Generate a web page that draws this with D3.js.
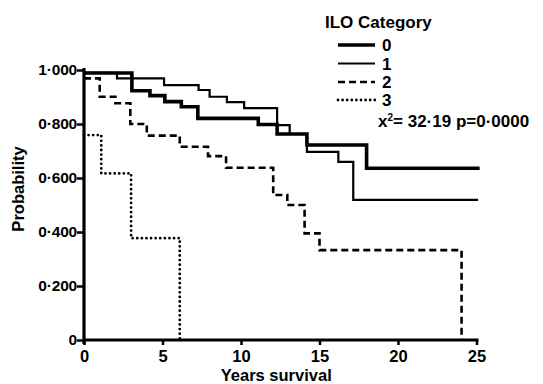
<!DOCTYPE html>
<html><head><meta charset="utf-8">
<script src="https://cdn.jsdelivr.net/npm/d3@7/dist/d3.min.js"></script>
<style>
body{margin:0;background:#fff;}
svg{display:block;}
text{font-family:"Liberation Sans",Arial,sans-serif;font-weight:bold;fill:#000;}
</style></head>
<body><svg id="c" width="543" height="384"></svg>
<script>
// Data
const categories = ["0","1","2","3"];
const times0 = [0, 3.05, 4.2, 5.15, 6.2, 7.25, 11.1, 12.3, 14.2, 18.0, 25.2];
const surv0  = [0.989, 0.923, 0.905, 0.883, 0.864, 0.821, 0.798, 0.763, 0.722, 0.636, 0.636];
const times1 = [0, 2.1, 5.1, 7.3, 8.0, 9.1, 10.2, 12.3, 13.1, 14.2, 16.2, 17.15, 25.1];
const surv1  = [0.989, 0.969, 0.944, 0.926, 0.901, 0.881, 0.859, 0.796, 0.763, 0.697, 0.660, 0.519, 0.519];
const times2 = [0, 1.0, 2.0, 2.95, 4.0, 6.1, 7.9, 9.05, 12.05, 12.95, 14.05, 15.0, 24.05];
const surv2  = [0.969, 0.901, 0.877, 0.80, 0.757, 0.716, 0.681, 0.638, 0.537, 0.50, 0.395, 0.333, 0];
const times3 = [0, 1.1, 3.0, 6.1];
const surv3  = [0.759, 0.617, 0.377, 0];
const xTicks = [0, 5, 10, 15, 20, 25];
const yTicks = [0, 0.2, 0.4, 0.6, 0.8, 1.0];
const yTickLabels = ["0", "0·200", "0·400", "0·600", "0·800", "1·000"];
const statText = "= 32·19  p=0·0000";

const svg = d3.select("#c");
const x = d3.scaleLinear().domain([0, 25]).range([84, 476.5]);
const y = d3.scaleLinear().domain([0, 1]).range([340, 70]);

const styles = [
  {w: 3.6, dash: null, cap: "butt"},
  {w: 2.2, dash: null, cap: "butt"},
  {w: 2.6, dash: "7,4", cap: "butt"},
  {w: 2.8, dash: "0,4.6", cap: "round"}
];

// axes
const xAxis = d3.axisBottom(x).tickValues(xTicks).tickSize(5).tickSizeOuter(0).tickFormat(d3.format("d"));
const gx = svg.append("g").attr("transform", `translate(0,${y(0)})`).call(xAxis);
gx.select(".domain").attr("stroke-width", 3).attr("d", `M${x(0)-1},0H${x(25)+2}`);
gx.selectAll(".tick line").attr("stroke-width", 2.5);
gx.selectAll(".tick text").attr("font-size", 16.5).attr("dy", "0.85em").attr("font-family", null);

const yAxis = d3.axisLeft(y).tickValues(yTicks).tickSize(7).tickSizeOuter(0).tickFormat((d, i) => yTickLabels[i]);
const gy = svg.append("g").attr("transform", `translate(${x(0)},0)`).call(yAxis);
gy.select(".domain").attr("stroke-width", 3.2).attr("d", `M0,${y(1)-2}V${y(0)+4}`);
gy.selectAll(".tick line").attr("stroke-width", 2.5);
gy.selectAll(".tick text").attr("font-size", 15.5).attr("x", -7).attr("font-family", null).attr("letter-spacing", "-0.2");
svg.selectAll(".tick text").attr("font-weight", "bold");

// curves
const allTimes = [times0, times1, times2, times3];
const allSurv = [surv0, surv1, surv2, surv3];
const line = d3.line().x(d => x(d[0])).y(d => y(d[1])).curve(d3.curveStepAfter);
allTimes.forEach((t, i) => {
  const pts = t.map((v, j) => [v, allSurv[i][j]]);
  svg.append("path").attr("d", line(pts)).attr("fill", "none").attr("stroke", "#000")
    .attr("stroke-width", styles[i].w).attr("stroke-dasharray", styles[i].dash)
    .attr("stroke-linecap", styles[i].cap).attr("stroke-linejoin", "miter");
});

// axis titles
svg.append("text").attr("x", x(12.5) - 4).attr("y", 381).attr("text-anchor", "middle").attr("font-size", 16.5).text("Years survival");
svg.append("text").attr("transform", `translate(24,189) rotate(-90)`).attr("text-anchor", "middle").attr("font-size", 16.5).text("Probability");

// legend
svg.append("text").attr("x", 325).attr("y", 28).attr("font-size", 17).text("ILO Category");
const legY = [45, 63.5, 82, 100];
categories.forEach((c, i) => {
  svg.append("line").attr("x1", 338).attr("x2", 375).attr("y1", legY[i]).attr("y2", legY[i])
    .attr("stroke", "#000").attr("stroke-width", styles[i].w).attr("stroke-dasharray", styles[i].dash)
    .attr("stroke-linecap", styles[i].cap);
  svg.append("text").attr("x", 382).attr("y", legY[i] + 6).attr("font-size", 17).text(c);
});
const st = svg.append("text").attr("x", 378).attr("y", 127).attr("font-size", 17);
st.append("tspan").text("x");
st.append("tspan").attr("dy", -6).attr("font-size", 10).text("2");
st.append("tspan").attr("dy", 6).text(statText);
</script></body></html>
